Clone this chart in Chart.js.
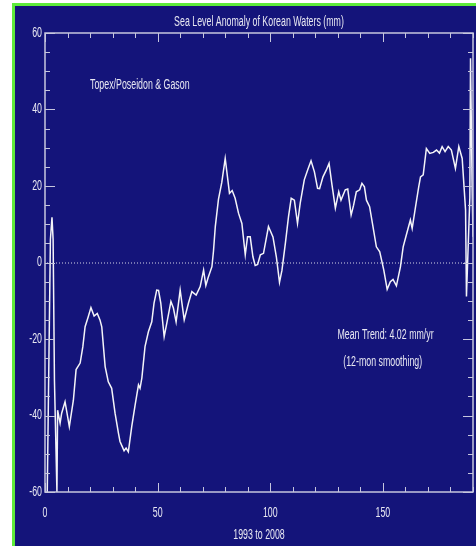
<!DOCTYPE html>
<html>
<head>
<meta charset="utf-8">
<title>Sea Level Anomaly of Korean Waters</title>
<script src="https://cdn.jsdelivr.net/npm/chart.js@4.4.1/dist/chart.umd.min.js"></script>
<style>
  html, body { margin: 0; padding: 0; background: #ffffff; }
  canvas { display: block; }
</style>
</head>
<body>
<canvas id="sla-chart" width="476" height="546"></canvas>
<script>
// month index since Jan 1993 (12-mon smoothed series)
const months = [
  1, 2.4, 3.1, 3.6, 4.2, 5.3, 5.6, 6.7, 7.4, 8.9,
  10.8, 12.6, 13.8, 15.6, 16.8, 17.8, 19.2, 20.4, 21.8, 23.2,
  24.4, 25.2, 26.7, 28.1, 29.6, 31.1, 32.6, 33.3, 34.2, 35.1,
  36, 37, 38.5, 40, 41.5, 42.2, 43, 44.4, 45.9, 47.4,
  48.4, 49.6, 50.4, 51.4, 52.9, 54.1, 55.9, 57, 58.2, 60,
  61.8, 63.7, 65.2, 67.1, 68.9, 70.4, 71.4, 72.4, 74.1, 74.8,
  75.6, 77, 78.5, 80, 81.9, 83.1, 84.4, 85.9, 87.4, 88.9,
  89.9, 91.1, 92.3, 93.3, 94.4, 95.6, 97, 99.2, 101.2, 102.7,
  104.1, 105.2, 106.7, 108.1, 109.3, 110.7, 112.1, 113.3, 115.1, 116.6,
  118.1, 119.6, 121, 121.9, 123.4, 124.9, 126.1, 127.4, 128.9, 130.4,
  131.4, 133.3, 134.4, 135.9, 137, 138.2, 139.7, 140.7, 141.8, 142.7,
  144.1, 145.6, 147.1, 148.6, 150.4, 151.9, 153.3, 154.5, 156, 157.8,
  159, 160.4, 162.2, 163, 164.4, 165.9, 166.7, 167.9, 169.3, 170.8,
  172.4, 173.8, 175.1, 176.3, 177.6, 179, 180.4, 182.2, 183.7, 185.2,
  186.7, 187.1, 188.6, 188.9, 189.6, 190
]

// sea level anomaly (mm)
const anomaly = [
  -60, 6, 11.8, 6, -31, -60, -38.6, -42, -39.4, -36.4,
  -42.9, -36, -28, -26.3, -22, -16.8, -14.2, -11.8, -14, -13.3,
  -15, -16.8, -27.2, -31.2, -32.9, -39.4, -44.6, -46.8, -48, -49.2,
  -48.5, -49.5, -42.9, -37.3, -32, -32.9, -30.2, -22, -18.1, -15.5,
  -10.6, -7.2, -7.3, -10.6, -19.4, -15.8, -10.2, -11.9, -15.5, -7.2,
  -15, -10.6, -7.6, -8.5, -6.3, -2, -6, -4, -1.1, 3,
  9.4, 16.5, 21, 27.2, 18.1, 18.8, 16.8, 12.9, 10.2, 2,
  6.7, 6.7, 1.5, -0.8, -0.5, 2, 2.4, 9.4, 6.7, 1.5,
  -5.2, -2, 5, 12, 16.8, 16.3, 10.2, 15.5, 21.6, 24.2,
  26.6, 23.7, 19.4, 19.3, 22.4, 24.2, 25.9, 20.3, 14.2, 18.5,
  16.3, 19, 19.2, 12.4, 15, 18.5, 19, 20.7, 19.8, 16.3,
  14.6, 9.4, 4.1, 2.8, -2, -7, -5, -4.4, -6.1, -1.1,
  4.1, 7.2, 11.1, 8.9, 14.2, 19.8, 22.4, 22.9, 29.8, 28.5,
  28.8, 29.4, 28.6, 30.3, 29, 30.3, 29.4, 24.6, 30.3, 27.2,
  13.7, -8.9, 17, 53.4, 20, 6.7
]

const xTicks = [0, 50, 100, 150]
const yTicks = [-60, -40, -20, 0, 20, 40, 60]
const xMinorStep = 10
const yMinorStep = 5

const titleText = 'Sea Level Anomaly of Korean Waters (mm)'
const xTitle = '1993 to 2008'
const noteTexts = ['Topex/Poseidon & Gason', 'Mean Trend: 4.02 mm/yr', '(12-mon smoothing)']
const noteX = [20, 129.8, 132.4]
const noteY = [46.4, -19, -26]

const fontFamily = "'Liberation Sans', Arial, sans-serif"
const fontSize = 14
const squeeze = 0.63   // the original uses a tall condensed font
const textColor = '#e8e8f2'
const axisColor = '#c6c6de'
const bgBlue = '#14147a'
const edgeGreen = '#5eec3a'

const canvas = document.getElementById('sla-chart')
const ctx2d = canvas.getContext('2d')
const baseFillText = CanvasRenderingContext2D.prototype.fillText
ctx2d.fillText = function (text, x, y) {
  this.save()
  this.translate(x, y)
  this.scale(squeeze, 1)
  baseFillText.call(this, text, 0, 0)
  this.restore()
}

const frame = {
  id: 'frame',
  beforeDraw(chart) {
    const ctx = chart.ctx
    ctx.save()
    ctx.fillStyle = '#ffffff'
    ctx.fillRect(0, 0, chart.width, chart.height)
    ctx.fillStyle = edgeGreen
    ctx.fillRect(12, 3, chart.width - 12, chart.height - 3)
    ctx.fillStyle = bgBlue
    ctx.fillRect(15, 6, chart.width - 15, chart.height - 6)
    ctx.restore()
  },
  beforeDatasetsDraw(chart) {
    const ctx = chart.ctx
    const { left, right } = chart.chartArea
    const y0 = chart.scales.y.getPixelForValue(0)
    ctx.save()
    ctx.strokeStyle = '#d4d4e6'
    ctx.lineWidth = 1
    ctx.setLineDash([1, 2])
    ctx.beginPath()
    ctx.moveTo(left + 2, y0 + 0.5)
    ctx.lineTo(right - 3, y0 + 0.5)
    ctx.stroke()
    ctx.restore()
  },
  afterDatasetsDraw(chart) {
    const ctx = chart.ctx
    const { x, y } = chart.scales
    const { left, right, top, bottom } = chart.chartArea
    ctx.save()
    ctx.strokeStyle = axisColor
    ctx.lineWidth = 1.5
    ctx.strokeRect(left, top, right - left, bottom - top)

    ctx.lineWidth = 1
    ctx.beginPath()
    for (let v = x.min; v <= x.max; v += xMinorStep) {
      const px = Math.round(x.getPixelForValue(v)) + 0.5
      const len = v % 50 === 0 ? 9 : 5
      ctx.moveTo(px, bottom); ctx.lineTo(px, bottom - len)
      ctx.moveTo(px, top); ctx.lineTo(px, top + len)
    }
    for (let v = y.min; v <= y.max; v += yMinorStep) {
      const py = Math.round(y.getPixelForValue(v)) + 0.5
      const len = v % 20 === 0 ? 10 : 5
      ctx.moveTo(left, py); ctx.lineTo(left + len, py)
      ctx.moveTo(right, py); ctx.lineTo(right - len, py)
    }
    ctx.stroke()

    ctx.fillStyle = textColor
    ctx.font = fontSize + 'px ' + fontFamily
    ctx.textBaseline = 'middle'
    ctx.textAlign = 'left'
    noteTexts.forEach((t, i) => {
      ctx.fillText(t, x.getPixelForValue(noteX[i]), y.getPixelForValue(noteY[i]))
    })
    ctx.restore()
  }
}

const data = {
  datasets: [
    {
      label: 'Sea level anomaly',
      data: months.map((m, i) => ({ x: m, y: anomaly[i] })),
      borderColor: '#f4f4f8',
      borderWidth: 1.5,
      pointRadius: 0,
      fill: false,
      tension: 0
    }
  ]
}

const tickFont = { family: fontFamily, size: fontSize }

const config = {
  type: 'line',
  data,
  options: {
    responsive: false,
    animation: false,
    layout: {
      padding: { left: 15, top: 6, right: 3, bottom: 0 }
    },
    plugins: {
      legend: { display: false },
      tooltip: { enabled: false },
      title: {
        display: true,
        fullSize: false,
        text: titleText,
        color: textColor,
        font: { family: fontFamily, size: fontSize, weight: 'normal' },
        padding: { top: 7.5, bottom: 2.7 }
      }
    },
    scales: {
      x: {
        type: 'linear',
        min: 0,
        max: 190,
        afterBuildTicks: s => { s.ticks = xTicks.map(v => ({ value: v })) },
        afterFit: s => { s.height = 54 },
        grid: { display: false, drawTicks: false },
        border: { display: false },
        ticks: { color: textColor, font: tickFont, padding: 12.5, maxRotation: 0 },
        title: {
          display: true,
          text: xTitle,
          color: textColor,
          font: tickFont,
          padding: { top: 0, bottom: 2.6 }
        }
      },
      y: {
        type: 'linear',
        min: -60,
        max: 60,
        afterBuildTicks: s => { s.ticks = yTicks.map(v => ({ value: v })) },
        afterFit: s => { s.width = 30 },
        grid: { display: false, drawTicks: false },
        border: { display: false },
        ticks: { color: textColor, font: tickFont, padding: 3 }
      }
    }
  },
  plugins: [frame]
}

const slaChart = new Chart(canvas, config)
</script>
</body>
</html>
